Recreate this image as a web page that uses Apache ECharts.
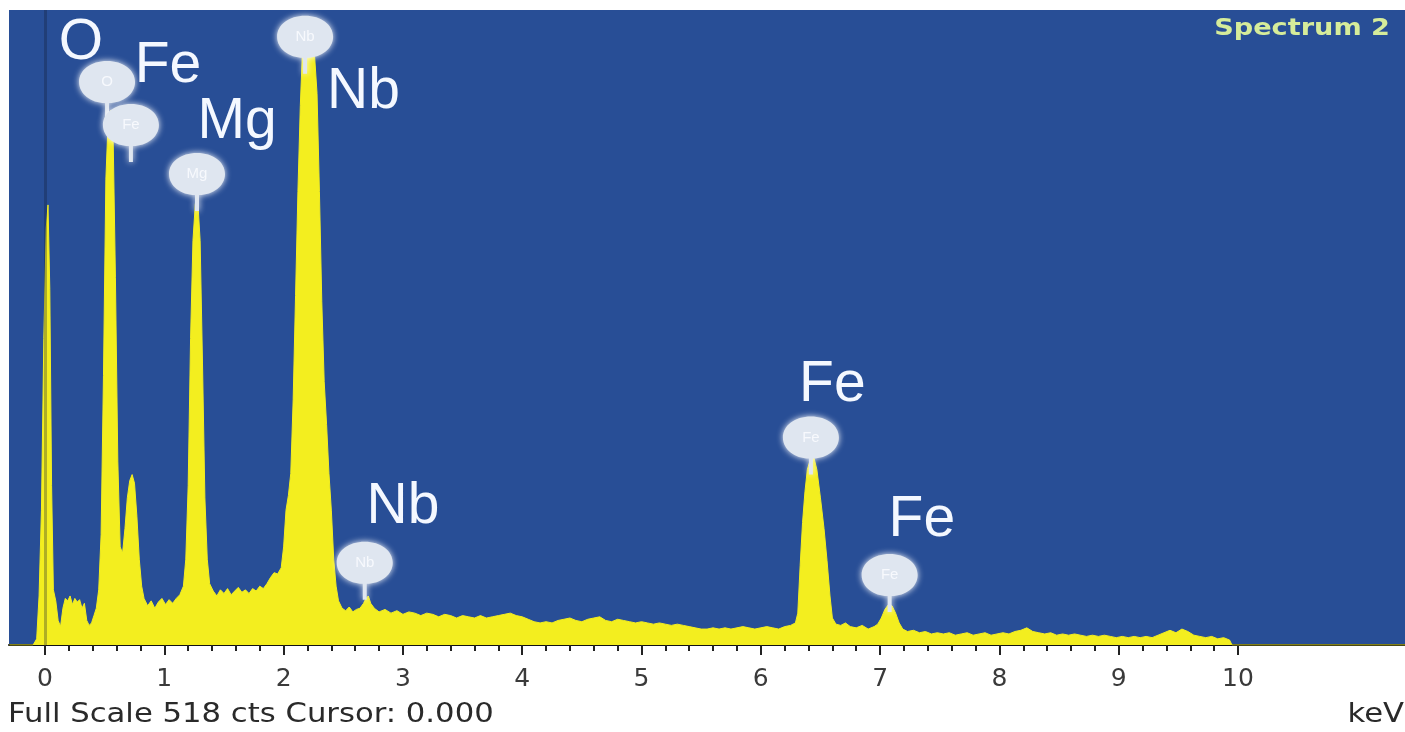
<!DOCTYPE html>
<html>
<head>
<meta charset="utf-8">
<script src="https://cdn.jsdelivr.net/npm/echarts@6/dist/echarts.min.js"></script>
<style>
html,body{margin:0;padding:0;background:#ffffff;}
#chart{width:1405px;height:732px;}
</style>
</head>
<body>
<div id="chart"></div>
<script>
// ---- data ----
const energies = [-0.30,-0.10,-0.07,-0.05,-0.03,-0.01,0.01,0.025,0.04,0.055,0.07,0.09,0.11,0.13,0.15,0.17,0.19,0.21,0.23,0.25,0.27,0.29,0.31,0.33,0.35,0.37,0.39,0.41,0.43,0.45,0.47,0.49,0.51,0.53,0.55,0.57,0.59,0.61,0.63,0.65,0.67,0.69,0.71,0.73,0.75,0.77,0.79,0.81,0.83,0.86,0.89,0.92,0.95,0.98,1.01,1.04,1.07,1.10,1.13,1.16,1.18,1.20,1.22,1.24,1.26,1.28,1.30,1.32,1.34,1.36,1.38,1.41,1.44,1.47,1.50,1.53,1.56,1.59,1.62,1.65,1.68,1.71,1.74,1.77,1.80,1.83,1.86,1.89,1.92,1.95,1.98,2.00,2.02,2.04,2.06,2.08,2.10,2.12,2.14,2.16,2.18,2.20,2.22,2.24,2.26,2.28,2.30,2.32,2.34,2.36,2.38,2.40,2.42,2.44,2.46,2.49,2.52,2.55,2.58,2.61,2.64,2.67,2.69,2.71,2.73,2.76,2.80,2.85,2.90,2.95,3.00,3.05,3.10,3.15,3.20,3.25,3.30,3.35,3.40,3.45,3.50,3.55,3.60,3.65,3.70,3.75,3.80,3.85,3.90,3.95,4.00,4.05,4.10,4.15,4.20,4.25,4.30,4.35,4.40,4.45,4.50,4.55,4.60,4.65,4.70,4.75,4.80,4.85,4.90,4.95,5.00,5.05,5.10,5.15,5.20,5.25,5.30,5.35,5.40,5.45,5.50,5.55,5.60,5.65,5.70,5.75,5.80,5.85,5.90,5.95,6.00,6.05,6.10,6.15,6.20,6.25,6.29,6.31,6.33,6.35,6.37,6.39,6.42,6.44,6.47,6.50,6.53,6.555,6.58,6.60,6.63,6.67,6.71,6.75,6.80,6.85,6.90,6.95,6.98,7.01,7.04,7.07,7.10,7.13,7.16,7.19,7.23,7.28,7.33,7.38,7.43,7.48,7.53,7.58,7.63,7.68,7.73,7.78,7.83,7.88,7.93,7.98,8.03,8.08,8.13,8.18,8.23,8.28,8.33,8.38,8.43,8.48,8.53,8.58,8.63,8.68,8.73,8.78,8.83,8.88,8.93,8.98,9.03,9.08,9.13,9.18,9.23,9.28,9.33,9.38,9.43,9.48,9.53,9.58,9.63,9.68,9.73,9.78,9.83,9.88,9.93,9.95,11.4];
const counts = [0,0,5,40,110,250,340,359,290,130,45,36,20,15,30,38,36,40,33,38,35,37,30,34,20,16,18,24,30,45,90,220,380,430,436,420,300,150,80,75,95,120,134,139,132,105,70,48,38,32,36,30,35,38,33,37,34,38,41,48,70,130,250,330,360,363,330,230,120,70,50,44,40,45,42,46,41,44,47,43,45,42,46,44,48,46,50,55,59,58,63,80,110,122,140,200,285,370,440,490,502,506,504,498,480,450,370,280,215,180,140,110,70,48,36,30,28,31,27,29,30,34,38,40,34,30,27,29,26,28,25,27,26,24,26,25,23,25,24,22,24,23,22,24,22,23,24,25,26,24,23,21,19,18,19,18,20,21,22,20,19,21,22,23,20,19,21,20,19,18,19,18,17,18,17,16,17,16,15,14,13,13,14,13,14,13,14,15,14,13,14,15,14,13,15,16,18,26,65,100,125,143,153,155,143,120,95,69,40,22,17,16,18,15,14,16,13,15,17,22,29,33,32,26,18,13,11,12,10,11,9,10,9,10,8,9,10,8,9,10,8,9,10,9,11,12,14,11,10,9,10,8,9,8,9,8,7,8,7,8,7,6,7,6,7,6,7,6,8,10,12,10,13,11,8,7,6,7,5,6,4,0,0];

const tickLabels = ['0','1','2','3','4','5','6','7','8','9','10'];
const majorTicks = [0,1,2,3,4,5,6,7,8,9,10];
const minorTicks = [];
for (let t = 0; t <= 50; t++) minorTicks.push(+(t * 0.2).toFixed(1));

const fullScale = 518;

// peak marker blobs (element, energy keV, counts at stem tip)
const markerNames = ['O','Fe','Mg','Nb','Nb','Fe','Fe'];
const markerEnergy = [0.52,0.72,1.274,2.18,2.68,6.42,7.08];
const markerCounts = [429,394,354,466,37,139,27];

// big element labels (anchor in data coordinates)
const labelNames = ['O','Fe','Mg','Nb','Nb','Fe','Fe'];
const labelEnergy = [0.30,1.03,1.61,2.67,3.00,6.60,7.35];
const labelCounts = [491,472,426,451,112,212,102];

// ---- chart ----
const chart = echarts.init(document.getElementById('chart'), null, {renderer:'canvas'});
const spectrum = energies.map((e,i)=>[e, counts[i]]);
const blobPath = 'path://M28,0 C44,0 56,9 56,21 C56,33 44,42 30,42 L30,58 L26,58 L26,42 C12,42 0,33 0,21 C0,9 12,0 28,0 Z';

const option = {
  backgroundColor: '#ffffff',
  animation: false,
  grid: {left: 9, right: 0, top: 10, bottom: 87, show: true, backgroundColor: '#284e96', borderWidth: 0},
  xAxis: [
    {
      type: 'value', min: -0.302, max: 11.40, position: 'bottom',
      axisLine: {show: true, onZero: false, lineStyle: {color: '#111', width: 2}},
      axisTick: {show: true, customValues: majorTicks, length: 10, lineStyle: {color: '#222', width: 2}},
      axisLabel: {show: true, customValues: majorTicks, formatter: v => tickLabels[majorTicks.indexOf(Math.round(v))] ?? '',
        margin: 22, fontSize: 25, color: '#3a3a3a', fontFamily: 'DejaVu Sans'},
      splitLine: {show: false}
    },
    {
      type: 'value', min: -0.302, max: 11.40, position: 'bottom',
      axisLine: {show: false, onZero: false},
      axisTick: {show: true, customValues: minorTicks, length: 6, lineStyle: {color: '#222', width: 2}},
      axisLabel: {show: false},
      splitLine: {show: false}
    }
  ],
  yAxis: {type: 'value', min: 0, max: fullScale, show: false, splitLine: {show: false}},
  series: [
    {
      type: 'line', xAxisIndex: 0, data: spectrum, symbol: 'none', silent: true,
      lineStyle: {color: '#f3ee1f', width: 1},
      areaStyle: {color: '#f3ee1f', opacity: 1},
      markLine: {silent: true, symbol: 'none', label: {show: false},
        lineStyle: {color: 'rgba(20,25,50,0.3)', width: 3, type: 'solid'},
        data: [{xAxis: 0}]}
    },
    {
      type: 'scatter', xAxisIndex: 0, silent: true,
      data: markerEnergy.map((e,i)=>({value:[e, markerCounts[i]], name: markerNames[i]})),
      symbol: blobPath, symbolSize: [56,58], symbolOffset: [0,'-50%'],
      itemStyle: {color: '#dfe6f0', opacity: 1, shadowBlur: 6, shadowColor: 'rgba(255,255,255,0.95)'},
      label: {show: true, position: 'inside', offset: [0,-8], formatter: p => p.name, color: '#f7f9fd', fontSize: 15, fontFamily: 'Liberation Sans'},
      z: 5
    },
    {
      type: 'scatter', xAxisIndex: 0, silent: true,
      data: labelEnergy.map((e,i)=>({value:[e, labelCounts[i]], name: labelNames[i]})),
      symbolSize: 0, itemStyle: {opacity: 1},
      label: {show: true, position: 'inside', formatter: p => p.name, color: '#f4f8ff', opacity: 1, fontSize: 57, fontFamily: 'Liberation Sans'},
      z: 6
    }
  ],
  graphic: [
    {type: 'text', x: 1390, y: 29, silent: true, scaleX: 1.18,
      style: {text: 'Spectrum 2', fill: '#d6ec9a', font: 'bold 23px "DejaVu Sans"', align: 'right', verticalAlign: 'middle'}},
    {type: 'text', x: 8, y: 715, silent: true, scaleX: 1.18,
      style: {text: 'Full Scale ' + fullScale + ' cts Cursor: 0.000', fill: '#2a2a2a', font: '26px "DejaVu Sans"', align: 'left', verticalAlign: 'middle'}},
    {type: 'text', x: 1404, y: 715, silent: true, scaleX: 1.18,
      style: {text: 'keV', fill: '#2a2a2a', font: '26px "DejaVu Sans"', align: 'right', verticalAlign: 'middle'}}
  ]
};
chart.setOption(option);
</script>
</body>
</html>
